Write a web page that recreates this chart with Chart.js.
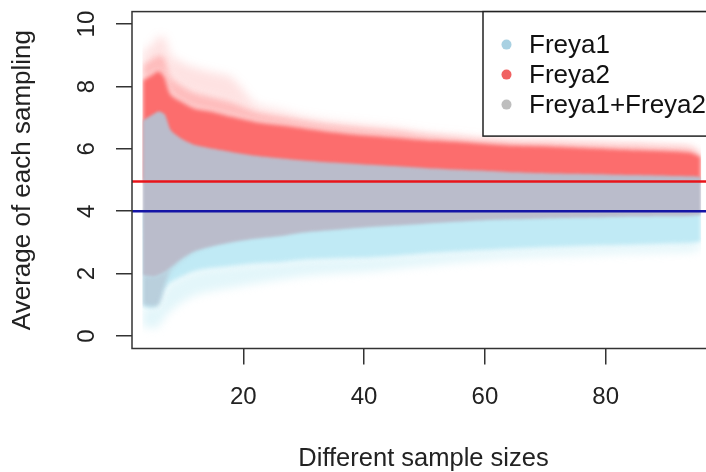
<!DOCTYPE html>
<html>
<head>
<meta charset="utf-8">
<script src="https://cdn.jsdelivr.net/npm/chart.js@4.4.0/dist/chart.umd.min.js"></script>
<style>
  html, body { margin: 0; padding: 0; background: #fff; overflow: hidden; }
  /* the plot frame runs a few pixels past the right edge of the window */
  #wrap { width: 715px; height: 472px; position: relative; }
</style>
</head>
<body>
<div id="wrap"><canvas id="c"></canvas></div>
<script>
// Sample sizes along which the cloud of sampling averages is described
const sampleSize   = [3.3, 5, 6, 7, 8, 10, 12, 15, 18, 22, 26, 30, 35, 40, 45, 50, 55, 60, 65, 70, 75, 80, 85, 90, 94, 95.8];

// Freya2 averages: dense upper edge, mid-density upper edge, sparse outer edge
const freya2Hi     = [8.2, 8.4, 8.5, 8.3, 7.75, 7.5, 7.3, 7.2, 7.05, 6.88, 6.78, 6.68, 6.55, 6.45, 6.38, 6.3, 6.25, 6.18, 6.12, 6.1, 6.06, 6.02, 5.98, 5.95, 5.9, 5.75];
const freya2MidHi  = [8.7, 8.9, 9.0, 8.9, 8.3, 8.0, 7.8, 7.65, 7.5, 7.2, 7.05, 6.92, 6.78, 6.68, 6.6, 6.48, 6.4, 6.32, 6.26, 6.24, 6.2, 6.17, 6.14, 6.1, 6.05, 5.85];
const freya2MaxHi  = [9.1, 9.35, 9.6, 9.55, 9.0, 8.75, 8.6, 8.45, 8.3, 7.45, 7.25, 7.05, 6.9, 6.8, 6.7, 6.55, 6.45, 6.35, 6.3, 6.28, 6.25, 6.22, 6.2, 6.15, 6.1, 5.9];

// Freya1+Freya2 averages: upper and lower edge, plus sparse lower tail
const pooledHi     = [6.9, 7.1, 7.2, 7.1, 6.6, 6.3, 6.12, 6.0, 5.9, 5.78, 5.7, 5.63, 5.56, 5.5, 5.45, 5.39, 5.34, 5.3, 5.25, 5.22, 5.2, 5.18, 5.16, 5.14, 5.12, 5.1];
const pooledLo     = [1.95, 1.9, 1.95, 2.05, 2.2, 2.5, 2.72, 2.88, 3.0, 3.12, 3.2, 3.32, 3.4, 3.48, 3.54, 3.6, 3.66, 3.71, 3.74, 3.77, 3.79, 3.81, 3.83, 3.84, 3.85, 3.88];
const pooledTailLo = [1.0, 0.95, 1.0, 1.6, 2.1, 2.45, 2.7, 2.88, 3.0, 3.12, 3.2, 3.32, 3.4, 3.48, 3.54, 3.6, 3.66, 3.71, 3.74, 3.77, 3.79, 3.81, 3.83, 3.84, 3.85, 3.88];

// Freya1 averages: dense lower edge and sparse outer edge
const freya1Lo     = [0.95, 0.9, 1.0, 1.5, 1.72, 1.92, 2.08, 2.18, 2.24, 2.32, 2.36, 2.44, 2.48, 2.5, 2.56, 2.64, 2.7, 2.75, 2.8, 2.84, 2.87, 2.9, 2.92, 2.95, 2.97, 3.02];
const freya1MinLo  = [0.3, 0.25, 0.3, 0.6, 0.8, 1.1, 1.3, 1.45, 1.55, 1.68, 1.8, 1.92, 2.0, 2.05, 2.15, 2.25, 2.35, 2.43, 2.5, 2.55, 2.58, 2.62, 2.65, 2.68, 2.7, 2.8];

// Population means drawn as reference lines
const meanFreya1 = 4.0;
const meanFreya2 = 4.95;

const seriesNames = ['Freya1', 'Freya2', 'Freya1+Freya2'];
const seriesDots  = ['#a9d1e2', '#f06262', '#bebebe'];

const xTicks = [20, 40, 60, 80];
const yTicks = [0, 2, 4, 6, 8, 10];
const xRange = [1.57, 98.1];
const yRange = [-0.4, 10.4];

const FONT = "'Liberation Sans', Arial, Helvetica, sans-serif";
const pts = arr => sampleSize.map((n, i) => ({ x: n, y: arr[i] }));
const hidden = 'rgba(0,0,0,0)';

function band(data, fill, color, order, blur) {
  return { data: pts(data), fill, backgroundColor: color, borderColor: hidden,
           borderWidth: 0, pointRadius: 0, tension: 0.25, order, soft: blur };
}
function refLine(y, color, order) {
  return { data: [{ x: xRange[0], y }, { x: xRange[1], y }], fill: false,
           borderColor: color, borderWidth: 2.5, pointRadius: 0, order, soft: 0 };
}

// Each band fills down (or up) to a line that stays inside the pooled cloud,
// so the soft inner edges are hidden under it.
const datasets = [
  refLine(meanFreya2, '#e8141a', 0),                             // 0
  refLine(meanFreya1, '#1515a6', 1),                             // 1
  band(pooledLo, false, hidden, 2, 1.5),                         // 2
  band(pooledHi, 2, '#babccb', 3, 1.5),                          // 3 pooled core
  band(pooledTailLo, 2, 'rgba(180,188,204,0.6)', 4, 2),          // 4 pooled tail
  band(freya2Hi, 0, '#fc6d6d', 5, 2),                            // 5 Freya2 core
  band(freya2MidHi, 5, 'rgba(252,109,109,0.45)', 6, 3),          // 6
  band(freya2MaxHi, 6, 'rgba(252,109,109,0.2)', 7, 5),           // 7
  band(freya1Lo, 1, '#c0eaf5', 8, 2),                            // 8 Freya1 core
  band(freya1MinLo, 8, 'rgba(192,234,245,0.45)', 9, 4)           // 9
];

// Soft edges on the clouds, crisp reference lines, plot frame and key
const cloudsAndKey = {
  id: 'cloudsAndKey',
  beforeDatasetsDraw(chart) {
    const metas = chart.getSortedVisibleDatasetMetas();
    const first = metas[metas.length - 1];
    const s = chart.data.datasets[first.index].soft;
    chart.ctx.save();
    chart.ctx.filter = s ? 'blur(' + s + 'px)' : 'none';
  },
  afterDatasetDraw(chart, args) {
    // the filler paints the next dataset's area before that dataset's own hook,
    // so set the softness for the next one in drawing order here
    const metas = chart.getSortedVisibleDatasetMetas();
    const pos = metas.findIndex(m => m.index === args.index);
    const next = pos > 0 ? metas[pos - 1] : null;
    const s = next ? chart.data.datasets[next.index].soft : 0;
    chart.ctx.filter = s ? 'blur(' + s + 'px)' : 'none';
  },
  afterDatasetsDraw(chart) {
    const ctx = chart.ctx;
    ctx.restore();
    ctx.filter = 'none';
    const a = chart.chartArea;
    ctx.save();
    ctx.strokeStyle = '#333';
    ctx.lineWidth = 1.5;
    ctx.strokeRect(a.left, a.top, a.right - a.left, a.bottom - a.top);

    // key box anchored to the top right of the plot
    const bw = 232, bh = 124.5;
    const bx = a.right - bw, by = a.top;
    ctx.fillStyle = '#fff';
    ctx.fillRect(bx, by, bw, bh);
    ctx.strokeStyle = '#222';
    ctx.strokeRect(bx, by, bw, bh);
    ctx.font = '26px ' + FONT;
    ctx.textBaseline = 'middle';
    ctx.textAlign = 'left';
    seriesNames.forEach((name, i) => {
      const cy = by + 33 + i * 30;
      ctx.fillStyle = seriesDots[i];
      ctx.beginPath();
      ctx.arc(bx + 23.5, cy, 5, 0, Math.PI * 2);
      ctx.fill();
      ctx.fillStyle = '#111';
      ctx.fillText(name, bx + 46, cy + 1);
    });
    ctx.restore();
  }
};

const gridOpts = { drawOnChartArea: false, drawTicks: true, tickLength: 16, color: '#333', lineWidth: 1.5 };

new Chart(document.getElementById('c'), {
  type: 'line',
  data: { datasets },
  options: {
    responsive: true,
    maintainAspectRatio: false,
    animation: false,
    layout: { padding: { top: 11.6, right: 0, bottom: 0, left: 0 } },
    plugins: { legend: { display: false }, tooltip: { enabled: false } },
    scales: {
      x: {
        type: 'linear', min: xRange[0], max: xRange[1],
        afterBuildTicks: s => { s.ticks = xTicks.map(v => ({ value: v })); },
        afterFit: s => { s.height = 123.5; s.paddingLeft = 0; s.paddingRight = 0; },
        grid: gridOpts,
        border: { display: false },
        ticks: { font: { family: FONT, size: 24 }, color: '#222', padding: 18, minRotation: 0, maxRotation: 0, autoSkip: false },
        title: { display: true, text: 'Different sample sizes', color: '#222',
                 font: { family: FONT, size: 25.5, lineHeight: 1 }, padding: { top: 0, bottom: 0.3 } }
      },
      y: {
        type: 'linear', min: yRange[0], max: yRange[1],
        afterBuildTicks: s => { s.ticks = yTicks.map(v => ({ value: v })); },
        afterFit: s => { s.width = 132; s.paddingTop = 0; s.paddingBottom = 0; },
        grid: gridOpts,
        border: { display: false },
        ticks: { font: { family: FONT, size: 24 }, color: '#222', padding: 15.6,
                 minRotation: 90, maxRotation: 90, crossAlign: 'center' },
        title: { display: true, text: 'Average of each sampling', color: '#222',
                 font: { family: FONT, size: 26, lineHeight: 1 }, padding: { top: 9.5, bottom: 0 } }
      }
    }
  },
  plugins: [cloudsAndKey]
});
</script>
</body>
</html>
